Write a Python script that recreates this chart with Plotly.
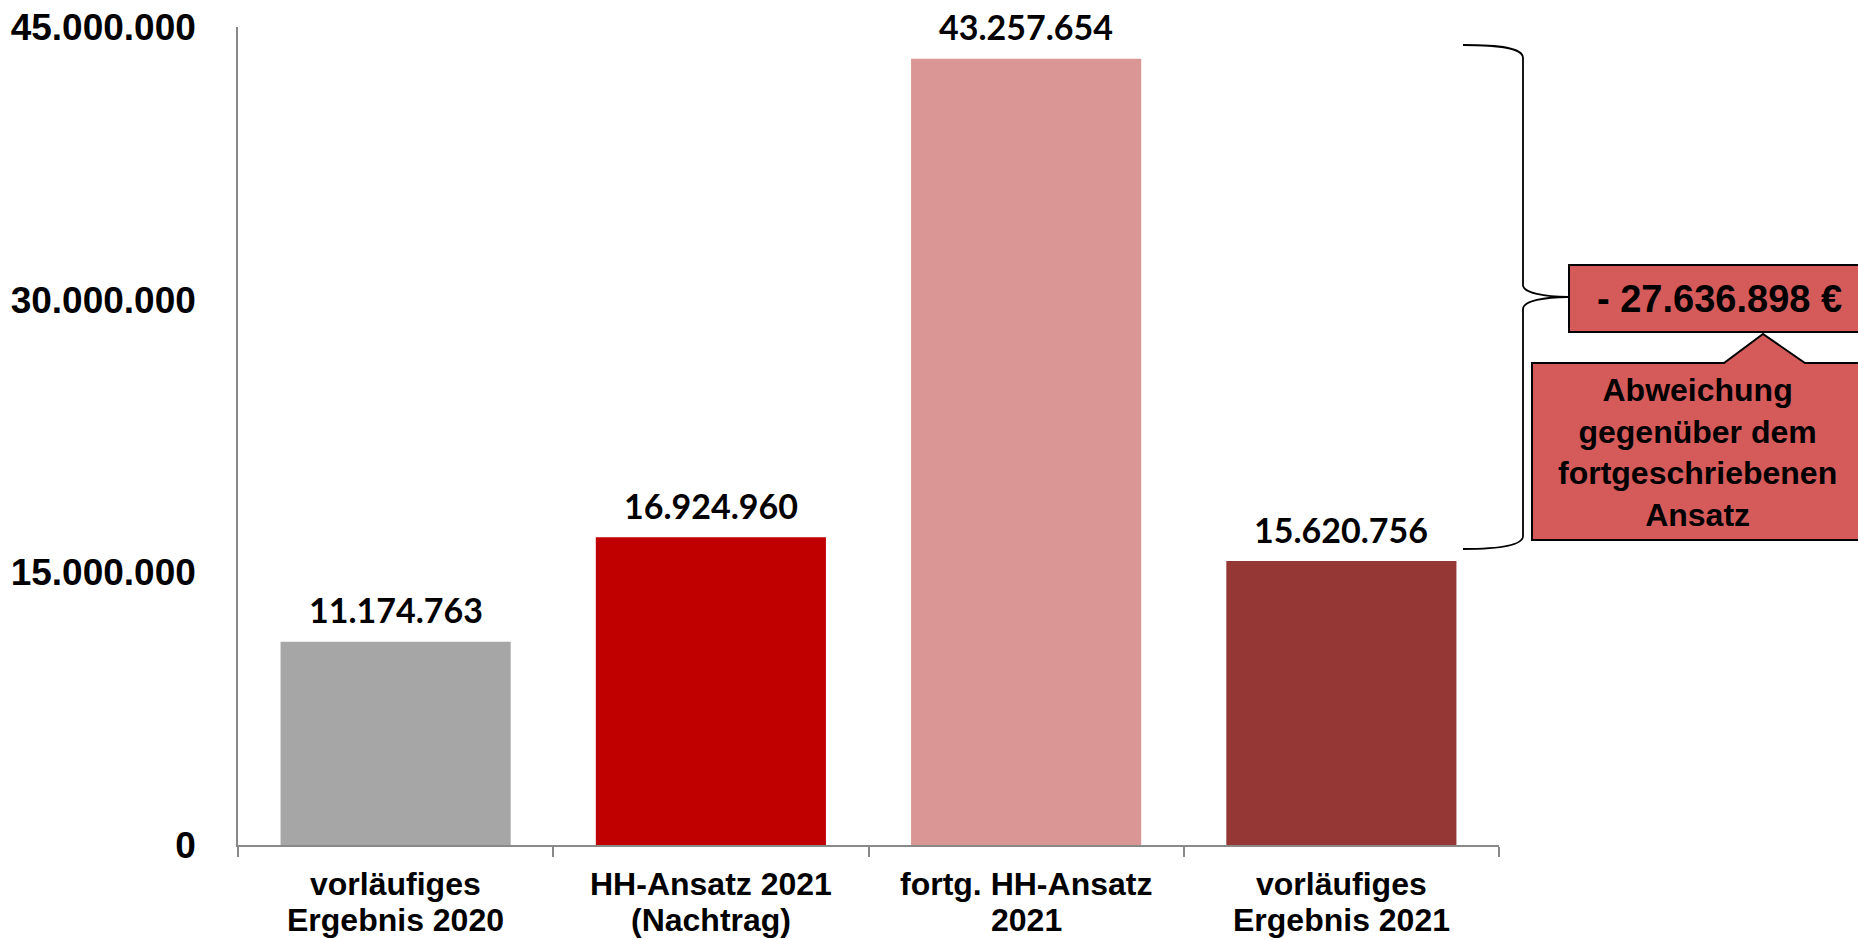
import plotly.graph_objects as go

categories = ["vorläufiges Ergebnis 2020", "HH-Ansatz 2021 (Nachtrag)",
              "fortg. HH-Ansatz 2021", "vorläufiges Ergebnis 2021"]
category_lines = [("vorläufiges", "Ergebnis 2020"), ("HH-Ansatz 2021", "(Nachtrag)"),
                  ("fortg. HH-Ansatz", "2021"), ("vorläufiges", "Ergebnis 2021")]
values = [11174763, 16924960, 43257654, 15620756]
colors = ["#A6A6A6", "#C00000", "#D99694", "#953735"]
y_ticks = [0, 15000000, 30000000, 45000000]
deviation_label = "- 27.636.898 €"
callout_lines = ["Abweichung", "gegenüber dem", "fortgeschriebenen", "Ansatz"]

W, H = 1858, 940
L, R, T, B = 238, 1499, 27, 845  # plot area in pixels


def px(x):
    return (x - L) / (R - L)


def py(y):
    return (B - y) / (B - T)


def de(v):
    return f"{v:,}".replace(",", ".")


fig = go.Figure()
fig.add_trace(go.Bar(x=categories, y=values, marker=dict(color=colors, line=dict(width=0)),
                     width=0.73, hoverinfo="skip"))

for c, v in zip(categories, values):
    fig.add_annotation(x=c, y=v, text=de(v), showarrow=False, yanchor="middle", yshift=32,
                       font=dict(family="Lato", size=34, color="#000000", weight="bold"))

# category labels (two lines each)
for c, (l1, l2) in zip(categories, category_lines):
    for txt, yy in ((l1, 884), (l2, 920)):
        fig.add_annotation(x=c, xref="x", yref="paper", y=py(yy), text=txt, showarrow=False,
                           xanchor="center", yanchor="middle",
                           font=dict(family="Liberation Sans", size=32, color="#000000",
                                     weight="bold"))

# brace
pts = [(1463, 45), (1500, 45), (1523, 48), (1523, 58), (1523, 285), (1523, 293), (1545, 297),
       (1568, 297), (1545, 297), (1523, 301), (1523, 309), (1523, 536), (1523, 545), (1500, 549),
       (1463, 549)]
P = [f"{px(x):.5f},{py(y):.5f}" for x, y in pts]
path = (f"M {P[0]} C {P[1]} {P[2]} {P[3]} L {P[4]} C {P[5]} {P[6]} {P[7]} "
        f"C {P[8]} {P[9]} {P[10]} L {P[11]} C {P[12]} {P[13]} {P[14]}")
fig.add_shape(type="path", path=path, xref="paper", yref="paper",
              line=dict(color="#000000", width=1.8), fillcolor="rgba(0,0,0,0)")

# deviation box
fig.add_shape(type="rect", xref="paper", yref="paper", x0=px(1569), x1=px(1875), y0=py(265), y1=py(332),
              fillcolor="#D55B5B", line=dict(color="#000000", width=2))
fig.add_annotation(xref="paper", yref="paper", x=px(1719), y=py(299), text=deviation_label,
                   showarrow=False, xanchor="center", yanchor="middle",
                   font=dict(family="Liberation Sans", size=38, color="#000000", weight="bold"))

# callout
cp = [(1532, 363), (1724, 363), (1763, 334), (1805, 363), (1875, 363), (1875, 540), (1532, 540)]
cpath = "M " + " L ".join(f"{px(x):.5f},{py(y):.5f}" for x, y in cp) + " Z"
fig.add_shape(type="path", path=cpath, xref="paper", yref="paper",
              fillcolor="#D55B5B", line=dict(color="#000000", width=2))
fig.add_annotation(xref="paper", yref="paper", x=px(1697), y=py(452),
                   text="<br>".join(callout_lines),
                   showarrow=False, xanchor="center", yanchor="middle", align="center",
                   font=dict(family="Liberation Sans", size=32, color="#000000", weight="bold"))

fig.update_layout(
    width=W, height=H,
    margin=dict(l=L, r=W - R, t=T, b=H - B, pad=0, autoexpand=False),
    paper_bgcolor="white", plot_bgcolor="white",
    showlegend=False, bargap=0.27,
    separators=",.",
)
fig.update_xaxes(type="category", tickson="boundaries", ticks="outside", ticklen=10, tickwidth=1.5,
                 tickcolor="#898989", showline=True, linecolor="#898989", linewidth=1.5,
                 showgrid=False, zeroline=False, automargin=False, showticklabels=False)
fig.update_yaxes(range=[0, 45000000], tickvals=y_ticks, tickformat=",d", showgrid=False,
                 zeroline=False, showline=True, linecolor="#898989", linewidth=1.5, ticks="",
                 ticklabelstandoff=33, automargin=False, ticklabeloverflow="allow",
                 tickfont=dict(family="Liberation Sans", size=37, color="#000000", weight="bold"))

fig.write_html("out.html", config={"displayModeBar": False},
               post_script="document.body.style.margin='0';")
